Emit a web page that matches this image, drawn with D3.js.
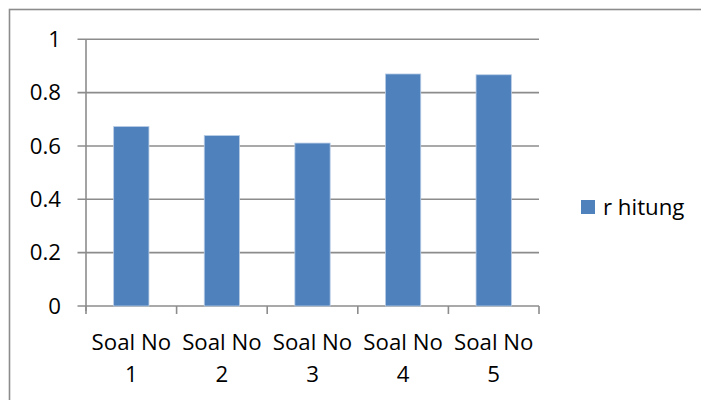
<!DOCTYPE html>
<html>
<head>
<meta charset="utf-8">
<script src="https://cdn.jsdelivr.net/npm/d3@7"></script>
<style>
  html, body { margin: 0; padding: 0; background: #fff; }
  svg text { font-family: "Open Sans", Lato, sans-serif; fill: #000; }
</style>
</head>
<body>
<svg id="chart" width="701" height="400"></svg>
<script>
// r hitung per soal
const categories = ["Soal No 1", "Soal No 2", "Soal No 3", "Soal No 4", "Soal No 5"];
const rHitung = [0.673, 0.639, 0.611, 0.870, 0.867];
const yTicks = [0, 0.2, 0.4, 0.6, 0.8, 1];
const seriesName = "r hitung";

const svg = d3.select("#chart");
const fontSize = 21;
const stretch = 1.06; // wide letterforms

// place a text node at (x, y) with horizontal stretch
function place(sel, fx, fy) {
  sel.attr("transform", (d, i) => `translate(${fx(d, i)},${fy(d, i)}) scale(${stretch},1)`)
     .attr("x", 0).attr("y", 0);
}

// outer frame
svg.append("rect")
  .attr("x", 9.5).attr("y", 9.5)
  .attr("width", 720).attr("height", 420)
  .attr("fill", "none").attr("stroke", "#8c8c8c").attr("stroke-width", 1.6);

const plot = { left: 86, right: 539, top: 39.3, bottom: 306 };

const x = d3.scaleBand().domain(categories).range([plot.left, plot.right]).paddingInner(0).paddingOuter(0);
const y = d3.scaleLinear().domain([0, 1]).range([plot.bottom, plot.top]);

const gridColor = "#8c8c8c";

// horizontal gridlines with left ticks
svg.append("g").selectAll("line").data(yTicks).join("line")
  .attr("x1", plot.left - 8.5).attr("x2", plot.right)
  .attr("y1", d => y(d)).attr("y2", d => y(d))
  .attr("stroke", gridColor).attr("stroke-width", 1.6);

// value axis line
svg.append("line")
  .attr("x1", plot.left).attr("x2", plot.left)
  .attr("y1", plot.top).attr("y2", plot.bottom + 5)
  .attr("stroke", gridColor).attr("stroke-width", 1.6);

// category tick marks
const catEdges = categories.map(c => x(c)).concat([x(categories[categories.length - 1]) + x.bandwidth()]);
svg.append("g").selectAll("line").data(catEdges).join("line")
  .attr("x1", d => d).attr("x2", d => d)
  .attr("y1", plot.bottom).attr("y2", plot.bottom + 8)
  .attr("stroke", gridColor).attr("stroke-width", 1.6);

// y tick labels
svg.append("g").selectAll("text").data(yTicks).join("text")
  .attr("dy", "0.36em")
  .attr("text-anchor", "end")
  .attr("font-size", fontSize)
  .text(d => d3.format("~g")(d))
  .call(place, () => 61, d => y(d));

// bars
const barW = 35.3;
svg.append("g").selectAll("rect").data(rHitung).join("rect")
  .attr("x", (d, i) => x(categories[i]) + x.bandwidth() / 2 - barW / 2)
  .attr("y", d => y(d))
  .attr("width", barW)
  .attr("height", d => y(0) - y(d))
  .attr("fill", "#4f81bd")
  .attr("stroke", "#b9cde5").attr("stroke-width", 0.8);

// category labels (two lines)
const catParts = categories.map(c => c.match(/^(.*)\s(\S+)$/).slice(1));
const catG = svg.append("g");
[350, 382].forEach((baseline, line) => {
  catG.append("g").selectAll("text").data(categories).join("text")
    .attr("text-anchor", "middle")
    .attr("font-size", fontSize)
    .text((c, i) => catParts[i][line])
    .call(place, c => x(c) + x.bandwidth() / 2, () => baseline);
});

// legend
const legend = svg.append("g");
legend.append("rect")
  .attr("x", 581).attr("y", 200).attr("width", 14).attr("height", 14)
  .attr("fill", "#4f81bd");
legend.append("text").datum(seriesName)
  .attr("font-size", fontSize)
  .text(d => d)
  .call(place, () => 603, () => 215);
</script>
</body>
</html>
